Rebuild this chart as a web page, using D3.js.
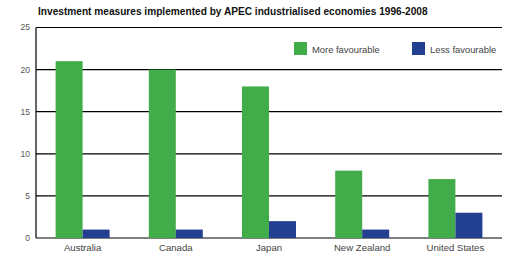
<!DOCTYPE html>
<html>
<head>
<meta charset="utf-8">
<script src="https://cdn.jsdelivr.net/npm/d3@7"></script>
<style>
  body { margin: 0; background: #fff; }
  text { font-family: "Liberation Sans", Arial, sans-serif; }
</style>
</head>
<body>
<svg id="chart" width="507" height="263"></svg>
<script>
const economies = ['Australia', 'Canada', 'Japan', 'New Zealand', 'United States']
const moreFavourable = [21, 20, 18, 8, 7]
const lessFavourable = [1, 1, 2, 1, 3]
const seriesNames = ['More favourable', 'Less favourable']
const yTicks = [0, 5, 10, 15, 20, 25]

const colors = ['#41ad4a', '#233f8f']

const margin = { top: 27.5, right: 5, bottom: 25, left: 36 }
const width = 507, height = 263
const innerW = width - margin.left - margin.right
const innerH = height - margin.top - margin.bottom

const svg = d3.select('#chart')

svg.append('text')
    .attr('x', 38).attr('y', 15)
    .attr('font-size', 10.15).attr('font-weight', 'bold')
    .attr('fill', '#111')
    .text('Investment measures implemented by APEC industrialised economies 1996-2008')

const g = svg.append('g').attr('transform', `translate(${margin.left},${margin.top})`)

const x = d3.scaleBand().domain(economies).range([0, innerW])
const y = d3.scaleLinear().domain([0, 25]).range([innerH, 0])

// gridlines
g.selectAll('line.grid').data(yTicks)
    .enter().append('line')
    .attr('x1', 0).attr('x2', innerW)
    .attr('y1', d => y(d)).attr('y2', d => y(d))
    .attr('stroke', '#000').attr('stroke-width', 1.2)

g.append('line')
    .attr('x1', 0).attr('x2', 0).attr('y1', 0).attr('y2', innerH)
    .attr('stroke', '#000').attr('stroke-width', 1.2)

g.selectAll('text.ytick').data(yTicks)
    .enter().append('text')
    .attr('x', -6).attr('y', d => y(d)).attr('dy', '0.35em')
    .attr('text-anchor', 'end').attr('font-size', 8.5).attr('fill', '#555')
    .text(d => d)

const barW = 27
const data = economies.map((e, i) => ({ e, vals: [moreFavourable[i], lessFavourable[i]] }))

const grp = g.selectAll('g.grp').data(data)
    .enter().append('g')
    .attr('transform', d => `translate(${x(d.e) + x.bandwidth() / 2},0)`)

grp.selectAll('rect').data(d => d.vals)
    .enter().append('rect')
    .attr('x', (d, i) => i === 0 ? -barW : 0)
    .attr('width', barW)
    .attr('y', d => y(d))
    .attr('height', d => innerH - y(d))
    .attr('fill', (d, i) => colors[i])

g.selectAll('text.xlab').data(economies)
    .enter().append('text')
    .attr('x', d => x(d) + x.bandwidth() / 2)
    .attr('y', innerH + 13)
    .attr('text-anchor', 'middle').attr('font-size', 9.6).attr('fill', '#444')
    .text(d => d)

// legend
const legendX = [294, 412]
seriesNames.forEach((n, i) => {
    svg.append('rect')
        .attr('x', legendX[i]).attr('y', 42).attr('width', 13).attr('height', 13)
        .attr('fill', colors[i])
    svg.append('text')
        .attr('x', legendX[i] + 18).attr('y', 52.5)
        .attr('font-size', 9.4).attr('fill', '#444')
        .text(n)
})
</script>
</body>
</html>
